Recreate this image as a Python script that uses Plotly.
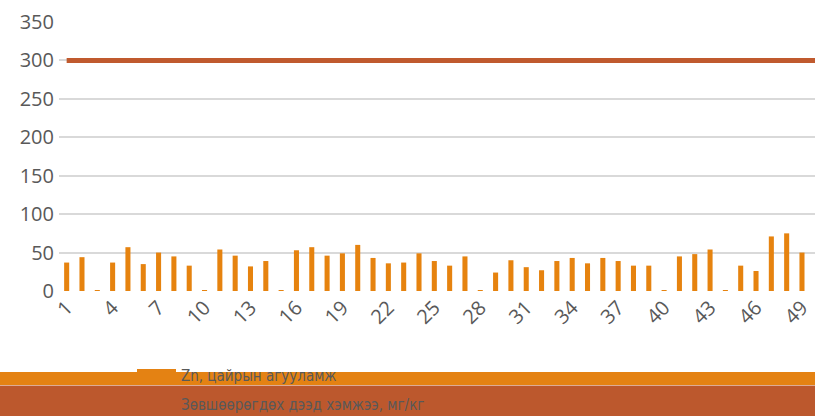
import plotly.graph_objects as go

categories = list(range(1, 51))
zn_values = [37, 44, 1, 37, 57, 35, 50, 45, 33, 1,
             54, 46, 32, 39, 1, 53, 57, 46, 49, 60,
             43, 36, 37, 49, 39, 33, 45, 1, 24, 40,
             31, 27, 39, 43, 36, 43, 39, 33, 33, 1,
             45, 48, 54, 1, 33, 26, 71, 75, 50, None]
limit_values = [300] * 50
tick_vals = list(range(1, 50, 3))
y_ticks = [0, 50, 100, 150, 200, 250, 300, 350]

bar_color = "#E6830F"
line_color = "#C05A2E"
txt = "#595959"

fig = go.Figure()
fig.add_trace(go.Bar(x=categories, y=zn_values, name="Zn, цайрын агууламж",
                     marker=dict(color=bar_color, line=dict(width=0)), width=0.33))
fig.add_trace(go.Scatter(x=categories, y=limit_values, mode="lines",
                         name="Зөвшөөрөгдөх дээд хэмжээ, мг/кг",
                         line=dict(color=line_color, width=5)))

fig.update_layout(
    width=815, height=416,
    margin=dict(l=59, r=0, t=22, b=125, autoexpand=False),
    paper_bgcolor="white", plot_bgcolor="white",
    showlegend=False,
    font=dict(family="Open Sans, Liberation Sans, sans-serif", size=20, color=txt),
    xaxis=dict(range=[0.5, 49.85], tickmode="array", tickvals=tick_vals,
               ticktext=[str(v) for v in tick_vals], tickangle=-45,
               showgrid=False, zeroline=False, showline=False, ticks="",
               automargin=False,
               tickfont=dict(size=20, color=txt)),
    yaxis=dict(range=[0, 350], tickmode="array", tickvals=y_ticks,
               showgrid=True, gridcolor="#D9D9D9", gridwidth=1.5,
               zeroline=False, showline=False, ticks="",
               automargin=False, ticklabelstandoff=4,
               tickfont=dict(size=20, color=txt)),
)

# bottom legend-like bands
def py(p):
    return (291 - p) / 269.0

def px(p):
    return (p - 59) / 756.0

fig.add_shape(type="rect", xref="paper", yref="paper", x0=px(-2), x1=px(818),
              y0=py(385), y1=py(372), fillcolor="#E48213", line=dict(width=0), layer="above")
fig.add_shape(type="rect", xref="paper", yref="paper", x0=px(-2), x1=px(818),
              y0=py(418), y1=py(385.5), fillcolor="#BC582D", line=dict(width=0), layer="above")
fig.add_shape(type="rect", xref="paper", yref="paper", x0=px(137), x1=px(176),
              y0=py(372), y1=py(369), fillcolor="#E48213", line=dict(width=0), layer="above")

for label, ypix in [("Zn, цайрын агууламж", 376), ("Зөвшөөрөгдөх дээд хэмжээ, мг/кг", 405)]:
    fig.add_annotation(text=label, xref="paper", yref="paper", x=px(179), y=py(ypix),
                       xanchor="left", yanchor="middle", showarrow=False,
                       font=dict(family="DejaVu Sans Condensed, Liberation Sans Narrow, sans-serif",
                                 size=15, color=txt))

fig.write_html("out.html", config={"displayModeBar": False},
               post_script="document.body.style.margin='0';document.body.style.overflow='hidden';")
